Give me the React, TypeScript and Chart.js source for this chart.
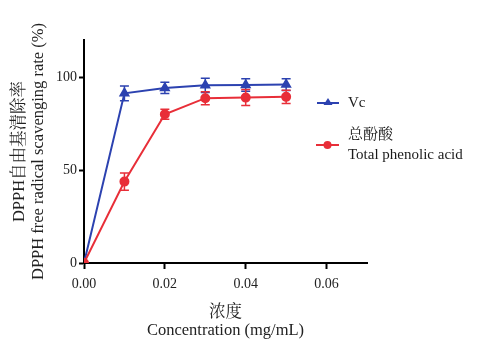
import React, { useEffect, useRef } from "react";
import { Chart, registerables } from "chart.js";

Chart.register(...registerables);

const concentrations = [0, 0.01, 0.02, 0.03, 0.04, 0.05];
const vcValues = [0, 91.3, 94.2, 95.6, 95.8, 96.0];
const vcErrors = [0, 4.0, 3.0, 3.8, 3.4, 3.2];
const tpaValues = [0, 43.8, 80.0, 88.7, 89.0, 89.4];
const tpaErrors = [0, 4.6, 2.7, 3.5, 4.3, 3.6];
const xTicks = [0, 0.02, 0.04, 0.06];
const yTicks = [0, 50, 100];
const vcLabel = "Vc";
const tpaLabel = ["总酚酸", "Total phenolic acid"];
const xTitle = ["浓度", "Concentration (mg/mL)"];
const yTitle = ["DPPH自由基清除率", "DPPH free radical scavenging rate (%)"];

const BLUE = "rgb(44,66,176)";
const RED = "rgb(232,46,56)";
const FONT = '"Liberation Serif", "Noto Serif CJK SC", "Noto Sans CJK SC", serif';

const errorBarPlugin = {
  id: "errorBars",
  beforeDatasetsDraw(chart: any) {
    const ctx = chart.ctx;
    const yScale = chart.scales.y;
    chart.data.datasets.forEach((ds: any, i: number) => {
      const meta = chart.getDatasetMeta(i);
      const errs: number[] = ds.errors || [];
      ctx.save();
      ctx.strokeStyle = ds.borderColor;
      ctx.lineWidth = 1.5;
      meta.data.forEach((pt: any, j: number) => {
        const e = errs[j] || 0;
        if (!e) return;
        const raw = ds.data[j];
        const v = typeof raw === "number" ? raw : raw.y;
        const yt = yScale.getPixelForValue(v + e);
        const yb = yScale.getPixelForValue(v - e);
        const x = pt.x;
        ctx.beginPath();
        ctx.moveTo(x, yt);
        ctx.lineTo(x, yb);
        ctx.moveTo(x - 4.5, yt);
        ctx.lineTo(x + 4.5, yt);
        ctx.moveTo(x - 4.5, yb);
        ctx.lineTo(x + 4.5, yb);
        ctx.stroke();
      });
      ctx.restore();
    });
  },
};

const legendPlugin = {
  id: "customLegend",
  afterDraw(chart: any) {
    const ctx = chart.ctx;
    ctx.save();
    const ds0 = chart.data.datasets[0];
    const ds1 = chart.data.datasets[1];
    ctx.strokeStyle = ds0.borderColor;
    ctx.fillStyle = ds0.borderColor;
    ctx.lineWidth = 2;
    ctx.beginPath();
    ctx.moveTo(317, 103);
    ctx.lineTo(339, 103);
    ctx.stroke();
    ctx.beginPath();
    ctx.moveTo(328, 98);
    ctx.lineTo(332.5, 105);
    ctx.lineTo(323.5, 105);
    ctx.closePath();
    ctx.fill();
    ctx.strokeStyle = ds1.borderColor;
    ctx.fillStyle = ds1.borderColor;
    ctx.beginPath();
    ctx.moveTo(316, 145);
    ctx.lineTo(339, 145);
    ctx.stroke();
    ctx.beginPath();
    ctx.arc(327.5, 145, 4, 0, Math.PI * 2);
    ctx.fill();
    ctx.fillStyle = "#1a1a1a";
    ctx.font = "15px " + FONT;
    ctx.textBaseline = "middle";
    ctx.textAlign = "left";
    ctx.fillText(vcLabel, 348, 103);
    ctx.fillText(tpaLabel[0], 348, 135);
    ctx.fillText(tpaLabel[1], 348, 155);
    ctx.restore();
  },
};

export default function App() {
  const canvasRef = useRef<HTMLCanvasElement | null>(null);

  useEffect(() => {
    if (!canvasRef.current) return;
    const chart = new Chart(canvasRef.current, {
      type: "line",
      data: {
        datasets: [
          {
            label: vcLabel,
            data: concentrations.map((c, i) => ({ x: c, y: vcValues[i] })) as any,
            errors: vcErrors,
            borderColor: BLUE,
            backgroundColor: BLUE,
            pointStyle: "triangle",
            pointRadius: 4.5,
            borderWidth: 2,
            order: 1,
          } as any,
          {
            label: tpaLabel.join(" "),
            data: concentrations.map((c, i) => ({ x: c, y: tpaValues[i] })) as any,
            errors: tpaErrors,
            borderColor: RED,
            backgroundColor: RED,
            pointStyle: "circle",
            pointRadius: 4,
            borderWidth: 2,
            order: 0,
          } as any,
        ],
      },
      options: {
        animation: false,
        responsive: true,
        maintainAspectRatio: false,
        layout: { padding: { left: 0, top: 40, right: 113, bottom: 0 } },
        plugins: {
          legend: { display: false },
          tooltip: { enabled: false },
        },
        scales: {
          x: {
            type: "linear",
            min: 0,
            max: 0.07,
            afterBuildTicks: (axis: any) => {
              axis.ticks = xTicks.map((v) => ({ value: v }));
            },
            afterFit: (axis: any) => {
              axis.height = 78;
            },
            grid: {
              display: true,
              drawOnChartArea: false,
              drawTicks: true,
              tickLength: 6,
              tickWidth: 2,
              tickColor: "#000",
            },
            border: { display: true, color: "#000", width: 2 },
            ticks: {
              color: "#222",
              font: { family: FONT, size: 14 },
              padding: 7,
              callback: (v: any) => Number(v).toFixed(2),
            },
            title: {
              display: true,
              text: xTitle,
              color: "#222",
              font: { family: FONT, size: 16.5, lineHeight: 1.05 },
              padding: { top: 10, bottom: 2 },
            },
          },
          y: {
            type: "linear",
            min: 0,
            max: 120,
            afterBuildTicks: (axis: any) => {
              axis.ticks = yTicks.map((v) => ({ value: v }));
            },
            afterFit: (axis: any) => {
              axis.width = 84;
            },
            grid: {
              display: true,
              drawOnChartArea: false,
              drawTicks: true,
              tickLength: 5,
              tickWidth: 2,
              tickColor: "#000",
            },
            border: { display: true, color: "#000", width: 2 },
            ticks: {
              color: "#222",
              font: { family: FONT, size: 14 },
              padding: 2,
            },
            title: {
              display: true,
              text: yTitle,
              color: "#222",
              font: { family: FONT, size: 16.5, lineHeight: 1.1 },
              padding: { top: 11, bottom: 0 },
            },
          },
        },
      },
      plugins: [errorBarPlugin, legendPlugin],
    });
    return () => chart.destroy();
  }, []);

  return (
    <div style={{ position: "fixed", left: 0, top: 0, width: 480, height: 341, background: "#fff" }}>
      <canvas ref={canvasRef} />
    </div>
  );
}
